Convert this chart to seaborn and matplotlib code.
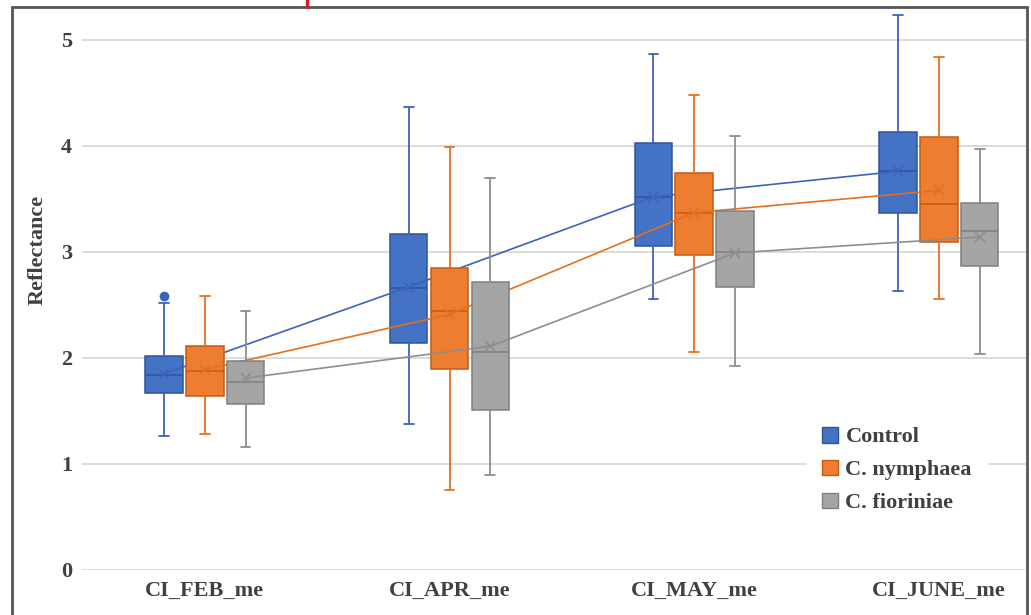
#librerías
import pandas as pd
import matplotlib.pyplot as plt
import seaborn as sns
from matplotlib.patches import Patch, Rectangle
from matplotlib.lines import Line2D

# datos
meses = ["CI_FEB_me", "CI_APR_me", "CI_MAY_me", "CI_JUNE_me"]
grupos = ["Control", "C. nymphaea", "C. fioriniae"]

# cinco números de cada caja: mínimo, q1, mediana, q3, máximo
control_min = [1.26, 1.38, 2.56, 2.63]
control_q1 = [1.67, 2.14, 3.06, 3.37]
control_med = [1.84, 2.66, 3.52, 3.76]
control_q3 = [2.02, 3.17, 4.03, 4.13]
control_max = [2.52, 4.37, 4.87, 5.23]
control_media = [1.85, 2.67, 3.52, 3.76]

nymphaea_min = [1.28, 0.75, 2.06, 2.56]
nymphaea_q1 = [1.64, 1.90, 2.97, 3.09]
nymphaea_med = [1.88, 2.44, 3.37, 3.45]
nymphaea_q3 = [2.11, 2.85, 3.74, 4.08]
nymphaea_max = [2.58, 3.99, 4.48, 4.84]
nymphaea_media = [1.89, 2.41, 3.37, 3.58]

fioriniae_min = [1.16, 0.90, 1.92, 2.04]
fioriniae_q1 = [1.57, 1.51, 2.67, 2.87]
fioriniae_med = [1.77, 2.06, 3.00, 3.20]
fioriniae_q3 = [1.97, 2.72, 3.39, 3.46]
fioriniae_max = [2.44, 3.70, 4.09, 3.97]
fioriniae_media = [1.81, 2.11, 2.99, 3.14]

# punto atípico (control en febrero)
atipico_mes = ["CI_FEB_me"]
atipico_grupo = ["Control"]
atipico_valor = [2.58]

colores = {"Control": "#4472C4", "C. nymphaea": "#ED7D31", "C. fioriniae": "#A5A5A5"}
bordes = {"Control": "#2F5597", "C. nymphaea": "#C55A11", "C. fioriniae": "#7F7F7F"}
lineas = {"Control": "#3A63BE", "C. nymphaea": "#E4701F", "C. fioriniae": "#8E8E8E"}

resumen = {
    "Control": [control_min, control_q1, control_med, control_q3, control_max],
    "C. nymphaea": [nymphaea_min, nymphaea_q1, nymphaea_med, nymphaea_q3, nymphaea_max],
    "C. fioriniae": [fioriniae_min, fioriniae_q1, fioriniae_med, fioriniae_q3, fioriniae_max],
}
medias = {"Control": control_media, "C. nymphaea": nymphaea_media, "C. fioriniae": fioriniae_media}

# tabla larga para seaborn
filas = []
for g in grupos:
    for i, m in enumerate(meses):
        for serie in resumen[g]:
            filas.append({"mes": m, "grupo": g, "valor": serie[i]})
datos = pd.DataFrame(filas)

filas_media = []
for g in grupos:
    for i, m in enumerate(meses):
        filas_media.append({"mes": m, "grupo": g, "media": medias[g][i]})
datos_media = pd.DataFrame(filas_media)

datos_atipico = pd.DataFrame({"mes": atipico_mes, "grupo": atipico_grupo, "valor": atipico_valor})

sns.set_style("white")
plt.rcParams["font.family"] = ["Liberation Serif", "DejaVu Serif"]

fig = plt.figure(figsize=(10.31, 6.15), dpi=100)
ax = fig.add_axes([0.080, 0.0732, 0.9161, 0.9138])

# cada serie por separado para que se tapen en el mismo orden que el original
for k, g in enumerate(grupos):
    z = 3 + k
    sns.boxplot(data=datos[datos["grupo"] == g], x="mes", y="valor", hue="grupo",
                order=meses, hue_order=grupos, palette=colores, saturation=1, dodge=True,
                width=0.5, gap=0.08, whis=1.5, fliersize=0, legend=False, ax=ax,
                boxprops={"edgecolor": bordes[g], "linewidth": 1.1},
                medianprops={"color": bordes[g], "linewidth": 1.1},
                whiskerprops={"color": lineas[g], "linewidth": 1.3},
                capprops={"color": lineas[g], "linewidth": 1.3},
                capwidths=0.04, zorder=z)
    sns.pointplot(data=datos_media[datos_media["grupo"] == g], x="mes", y="media", hue="grupo",
                  order=meses, hue_order=grupos, palette=lineas, dodge=0.5 * 2 / 3,
                  markers="x", linestyles="-", errorbar=None, legend=False, ax=ax,
                  linewidth=1.2, markersize=7, markeredgewidth=1.1, zorder=z + 0.5)

sns.pointplot(data=datos_atipico, x="mes", y="valor", hue="grupo", order=meses,
              hue_order=grupos, palette=lineas, dodge=0.5 * 2 / 3, markers="o",
              linestyles="none", errorbar=None, legend=False, ax=ax, markersize=5, zorder=6)

ax.set_xlim(-0.5, 3.36)
ax.set_ylim(0, 5.30)
ax.set_yticks([0, 1, 2, 3, 4, 5])
ax.yaxis.grid(True, color="#d9d9d9", linewidth=1.3)
ax.xaxis.grid(False)
ax.set_axisbelow(True)
for s in ax.spines.values():
    s.set_visible(False)
ax.tick_params(axis="both", length=0, labelsize=16, labelcolor="#404040")
ax.tick_params(axis="y", pad=7.5)
ax.tick_params(axis="x", pad=8)
for t in ax.get_xticklabels() + ax.get_yticklabels():
    t.set_fontweight("bold")
ax.set_xlabel("")
ax.set_ylabel("Reflectance", fontsize=16, fontweight="bold", color="#404040")
ax.yaxis.set_label_coords(-0.0365, 0.569)

# leyenda con cuadrados
manejadores = [Patch(facecolor=colores[g], edgecolor=bordes[g], linewidth=1) for g in grupos]
ley = ax.legend(manejadores, grupos, loc="center", bbox_to_anchor=(897 / 1031, 1 - 470 / 615),
                bbox_transform=fig.transFigure, frameon=True, fancybox=False,
                prop={"family": ["Liberation Serif"], "weight": "bold", "size": 16},
                labelcolor="#404040", handlelength=0.7, handleheight=0.7,
                handletextpad=0.35, labelspacing=0.55, borderpad=0.7)
ley.get_frame().set_facecolor("white")
ley.get_frame().set_edgecolor("white")
ley.get_frame().set_alpha(1)
ley.set_zorder(10)

# marco del gráfico
fig.add_artist(Rectangle((12 / 1031, -0.1), (1027 - 12) / 1031, 1 - 7 / 615 + 0.1,
                         transform=fig.transFigure, fill=False, edgecolor="#555555", linewidth=2))
fig.add_artist(Line2D([306.7 / 1031, 306.7 / 1031], [1, 1 - 7 / 615],
                      transform=fig.transFigure, color="#d0202a", linewidth=2.5))

fig.savefig("out.png", dpi=100)
